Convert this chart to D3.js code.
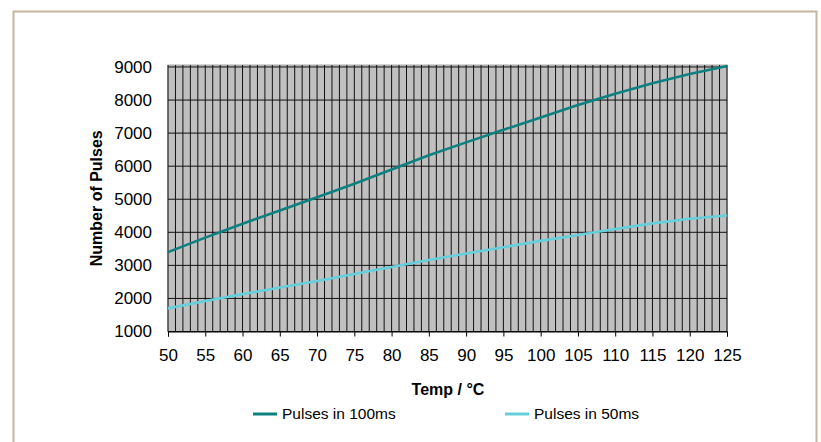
<!DOCTYPE html>
<html>
<head>
<meta charset="utf-8">
<script src="https://cdn.jsdelivr.net/npm/d3@7"></script>
<style>
  html, body { margin: 0; padding: 0; background: #fff; }
  svg { display: block; font-family: "Liberation Sans", Arial, sans-serif; }
</style>
</head>
<body>
<svg class="chart" width="821" height="442"></svg>
<script>
const temps = [50, 55, 60, 65, 70, 75, 80, 85, 90, 95, 100, 105, 110, 115, 120, 125];
const pulses100 = [3400, 3840, 4260, 4660, 5060, 5470, 5900, 6330, 6720, 7100, 7470, 7850, 8190, 8510, 8790, 9030];
const pulses50 = [1700, 1920, 2130, 2330, 2530, 2740, 2950, 3160, 3360, 3550, 3740, 3920, 4100, 4270, 4410, 4510];
const yTicks = [1000, 2000, 3000, 4000, 5000, 6000, 7000, 8000, 9000];
const xTicks = d3.range(50, 126, 5);
const seriesNames = ['Pulses in 100ms', 'Pulses in 50ms'];

const startApp = () => {
  const margin = { top: 65, left: 168, bottom: 110.5, right: 94 };
  const viewBox = { width: 821, height: 442 };
  const width = viewBox.width - margin.left - margin.right;
  const height = viewBox.height - margin.top - margin.bottom;
  const colors = ['#0e8080', '#66cfdc'];

  const svg = d3.select('.chart');

  // outer frame
  svg.append('rect')
    .attr('x', 13.5).attr('y', 11.5)
    .attr('width', 803).attr('height', 440)
    .attr('fill', 'none')
    .attr('stroke', '#c4b59c')
    .attr('stroke-width', 2);

  const chart = svg.append('g')
    .attr('transform', `translate(${margin.left}, ${margin.top})`);

  const xScale = d3.scaleLinear().domain([50, 125]).range([0, width]);
  const yScale = d3.scaleLinear().domain([1000, 9060]).range([height, 0]);

  chart.append('rect')
    .attr('width', width).attr('height', height)
    .attr('fill', '#c0c0c0')
    .attr('stroke', '#a8a8a8')
    .attr('stroke-width', 1);

  // minor vertical grid, every degree
  chart.append('g')
    .selectAll('line')
    .data(d3.range(50, 126, 1))
    .enter()
    .append('line')
    .attr('x1', d => xScale(d)).attr('x2', d => xScale(d))
    .attr('y1', yScale(9060)).attr('y2', yScale(1000))
    .attr('stroke', '#111')
    .attr('stroke-width', 1);

  chart.append('g')
    .selectAll('line')
    .data(yTicks)
    .enter()
    .append('line')
    .attr('x1', 0).attr('x2', width)
    .attr('y1', d => yScale(d)).attr('y2', d => yScale(d))
    .attr('stroke', '#111')
    .attr('stroke-width', 1);

  const line = d3.line()
    .x((d, i) => xScale(temps[i]))
    .y(d => yScale(d));

  [pulses100, pulses50].forEach((values, i) => {
    chart.append('path')
      .datum(values)
      .attr('d', line)
      .attr('fill', 'none')
      .attr('stroke', colors[i])
      .attr('stroke-width', 2.6)
      .attr('stroke-linejoin', 'round');
  });

  const xAxis = d3.axisBottom(xScale).tickValues(xTicks).tickSize(5).tickPadding(12);
  const yAxis = d3.axisLeft(yScale).tickValues(yTicks).tickFormat(d3.format('d'))
    .tickSize(0).tickPadding(16);

  const gx = chart.append('g')
    .attr('transform', `translate(0, ${height})`)
    .call(xAxis);
  gx.select('.domain').attr('stroke', '#000');
  gx.selectAll('.tick line').attr('stroke', '#000');
  gx.selectAll('text').attr('font-size', 17).attr('fill', '#000').attr('font-family', 'Liberation Sans, Arial, sans-serif');

  const gy = chart.append('g').call(yAxis);
  gy.select('.domain').remove();
  gy.selectAll('text').attr('font-size', 17).attr('fill', '#000').attr('font-family', 'Liberation Sans, Arial, sans-serif');

  svg.append('text')
    .attr('x', 448).attr('y', 395)
    .attr('text-anchor', 'middle')
    .attr('font-size', 16).attr('font-weight', 'bold')
    .text('Temp / °C');

  svg.append('text')
    .attr('transform', `translate(102, ${margin.top + height / 2}) rotate(-90)`)
    .attr('text-anchor', 'middle')
    .attr('font-size', 16).attr('font-weight', 'bold')
    .text('Number of Pulses');

  // legend
  const legendX = [253, 505];
  const legend = svg.append('g').selectAll('g')
    .data(seriesNames)
    .enter()
    .append('g')
    .attr('transform', (d, i) => `translate(${legendX[i]}, 419)`);
  legend.append('line')
    .attr('x1', 0).attr('x2', 24)
    .attr('y1', -5).attr('y2', -5)
    .attr('stroke', (d, i) => colors[i])
    .attr('stroke-width', 3);
  legend.append('text')
    .attr('x', 29).attr('y', 0)
    .attr('font-size', 15.5)
    .text(d => d);
};

window.onload = startApp;
</script>
</body>
</html>
